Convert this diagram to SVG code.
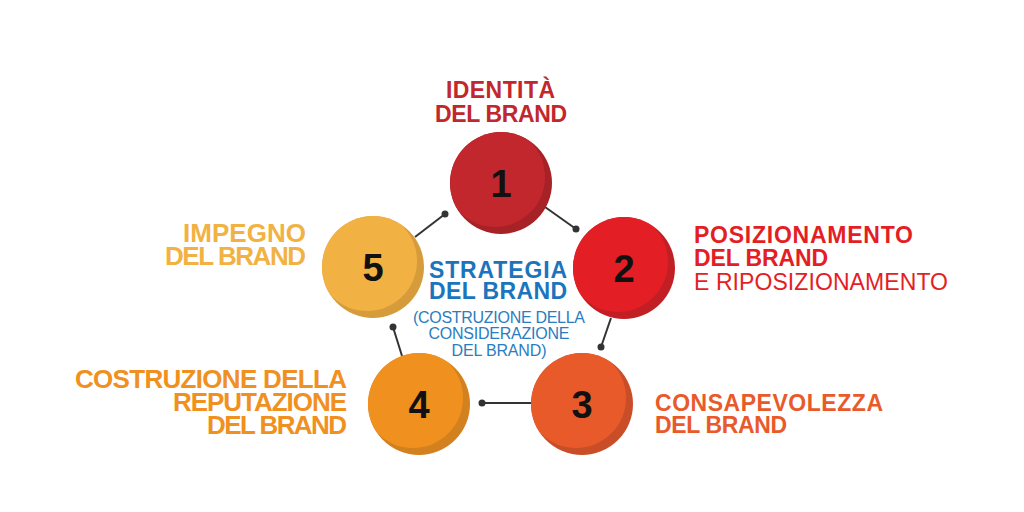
<svg xmlns="http://www.w3.org/2000/svg" width="1024" height="512" viewBox="0 0 1024 512">
<style>
.lb{font-family:"Liberation Sans",Arial,sans-serif;font-weight:bold;font-size:23px}
.l4{font-family:"Liberation Sans",Arial,sans-serif;font-weight:bold;font-size:26px}
.lr{font-family:"Liberation Sans",Arial,sans-serif;font-weight:normal;font-size:23px}
.dg{font-family:"Liberation Sans",Arial,sans-serif;font-weight:bold;font-size:38px;fill:#111;text-anchor:middle}
.cb{font-family:"Liberation Sans",Arial,sans-serif;font-weight:bold;font-size:23px;fill:#1c75bc;text-anchor:middle}
.cs{font-family:"Liberation Sans",Arial,sans-serif;font-size:16px;fill:#2a7dc0;text-anchor:middle}
.ln{stroke:#333;stroke-width:2;fill:none}
.dt{fill:#333}
</style>
<defs>
<clipPath id="k1"><circle cx="501" cy="183" r="51"/></clipPath>
<clipPath id="k2"><circle cx="624" cy="268" r="51"/></clipPath>
<clipPath id="k3"><circle cx="582" cy="404" r="51"/></clipPath>
<clipPath id="k4"><circle cx="419" cy="404" r="51"/></clipPath>
<clipPath id="k5"><circle cx="373" cy="267" r="51"/></clipPath>
</defs>
<rect width="1024" height="512" fill="#fff"/>
<g id="connectors">
<line class="ln" x1="545" y1="207" x2="576" y2="229"/><circle class="dt" cx="576" cy="229" r="3.5"/>
<line class="ln" x1="611" y1="318" x2="601" y2="347"/><circle class="dt" cx="601" cy="347" r="3.5"/>
<line class="ln" x1="532" y1="403" x2="482" y2="403"/><circle class="dt" cx="482" cy="403" r="3.5"/>
<line class="ln" x1="402" y1="356" x2="393" y2="327"/><circle class="dt" cx="393" cy="327" r="3.5"/>
<line class="ln" x1="415" y1="237" x2="445" y2="214"/><circle class="dt" cx="445" cy="214" r="3.5"/>
</g>
<g id="node1">
<circle cx="501" cy="183" r="51" fill="#a62227"/>
<circle cx="495" cy="177" r="50" fill="#c1272d" clip-path="url(#k1)"/>
<text class="dg" x="501" y="197">1</text>
<text class="lb" x="446" y="98" textLength="109" fill="#c1272d">IDENTITÀ</text>
<text class="lb" x="435" y="122" textLength="132" fill="#c1272d">DEL BRAND</text>
</g>
<g id="node2">
<circle cx="624" cy="268" r="51" fill="#c21f25"/>
<circle cx="618" cy="262" r="50" fill="#e31e25" clip-path="url(#k2)"/>
<text class="dg" x="624" y="282">2</text>
<text class="lb" x="694" y="243" textLength="219" fill="#e31e25">POSIZIONAMENTO</text>
<text class="lb" x="694" y="266" textLength="134" fill="#e31e25">DEL BRAND</text>
<text class="lr" x="694" y="290" textLength="254" fill="#e31e25">E RIPOSIZIONAMENTO</text>
</g>
<g id="node3">
<circle cx="582" cy="404" r="51" fill="#c94e27"/>
<circle cx="576" cy="398" r="50" fill="#e95a2b" clip-path="url(#k3)"/>
<text class="dg" x="582" y="418">3</text>
<text class="lb" x="655" y="411" textLength="228" fill="#e95a2b">CONSAPEVOLEZZA</text>
<text class="lb" x="655" y="433" textLength="132" fill="#e95a2b">DEL BRAND</text>
</g>
<g id="node4">
<circle cx="419" cy="404" r="51" fill="#d3801e"/>
<circle cx="413" cy="398" r="50" fill="#f0911f" clip-path="url(#k4)"/>
<text class="dg" x="419" y="418">4</text>
<text class="l4" x="75" y="388" textLength="272" fill="#f0911f">COSTRUZIONE DELLA</text>
<text class="l4" x="173" y="411" textLength="174" fill="#f0911f">REPUTAZIONE</text>
<text class="l4" x="207" y="434" textLength="140" fill="#f0911f">DEL BRAND</text>
</g>
<g id="node5">
<circle cx="373" cy="267" r="51" fill="#d69c3b"/>
<circle cx="367" cy="261" r="50" fill="#f2b243" clip-path="url(#k5)"/>
<text class="dg" x="373" y="281">5</text>
<text class="l4" x="183" y="242" textLength="123" fill="#f2b243">IMPEGNO</text>
<text class="l4" x="165" y="265" textLength="141" fill="#f2b243">DEL BRAND</text>
</g>
<g id="center">
<text class="cb" x="498" y="278" textLength="138">STRATEGIA</text>
<text class="cb" x="498" y="299" textLength="138">DEL BRAND</text>
<text class="cs" x="499" y="323" textLength="172">(COSTRUZIONE DELLA</text>
<text class="cs" x="499" y="339" textLength="141">CONSIDERAZIONE</text>
<text class="cs" x="499" y="356" textLength="95">DEL BRAND)</text>
</g>
</svg>
